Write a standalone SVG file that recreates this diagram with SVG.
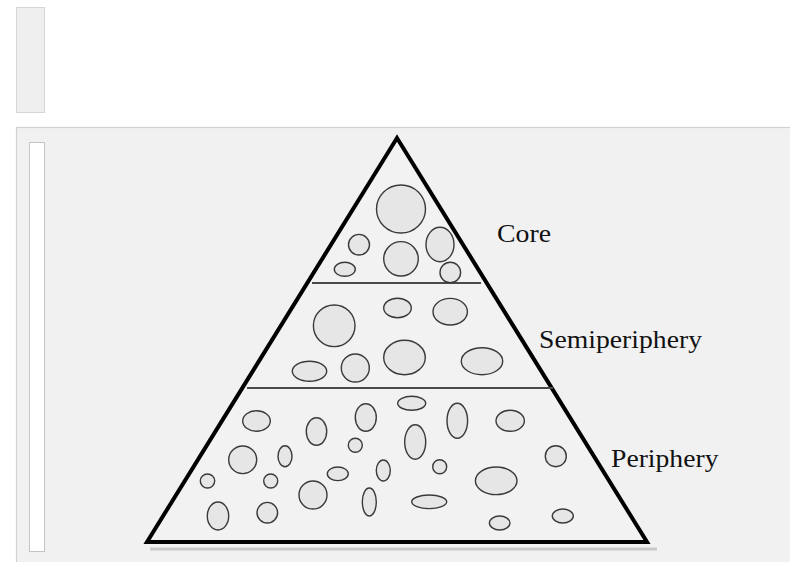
<svg xmlns="http://www.w3.org/2000/svg" width="790" height="562" viewBox="0 0 790 562">
<defs>
<style>
.bg{fill:#f1f1f1}
.blob{fill:#e6e6e6;stroke:#3a3a3a;stroke-width:1.4}
.div{stroke:#4a4a4a;stroke-width:2;fill:none}
.lbl{font-family:"Liberation Serif","Times New Roman",serif;font-size:26px;fill:#111}
</style>
</defs>
<rect width="790" height="562" fill="#ffffff"/>
<rect x="16.5" y="7.5" width="28" height="105" fill="#efefef" stroke="#d6d6d6" stroke-width="1"/>
<rect x="16.5" y="127.5" width="780" height="440" class="bg" stroke="#d2d2d2" stroke-width="1.2"/>
<rect x="29.5" y="142.5" width="15" height="409" fill="#ffffff" stroke="#c4c4c4" stroke-width="1"/>
<line x1="150" y1="549" x2="657" y2="549" stroke="#c9c9c9" stroke-width="3"/>
<g id="pyramid">
<polygon points="397,138 147,542 647,542" fill="#f2f2f2" stroke="#000" stroke-width="4" stroke-linejoin="miter"/>
</g>
<g id="connectors">
<line class="div" x1="312" y1="283" x2="481" y2="283"/>
<line class="div" x1="247" y1="388" x2="553" y2="388"/>
</g>
<g id="core">
<ellipse class="blob" cx="401" cy="209" rx="24.5" ry="24"/>
<ellipse class="blob" cx="359" cy="244.7" rx="10.5" ry="10.3"/>
<ellipse class="blob" cx="401" cy="258.8" rx="17.3" ry="17.2"/>
<ellipse class="blob" cx="440" cy="244.5" rx="14" ry="17.2"/>
<ellipse class="blob" cx="344.8" cy="269.3" rx="10.5" ry="7"/>
<ellipse class="blob" cx="450.3" cy="272.5" rx="10.3" ry="10.2"/>
<text class="lbl" x="497" y="242" textLength="54" lengthAdjust="spacingAndGlyphs">Core</text>
</g>
<g id="semiperiphery">
<ellipse class="blob" cx="334.2" cy="325.8" rx="20.8" ry="20.8"/>
<ellipse class="blob" cx="397.5" cy="308" rx="13.8" ry="9.7"/>
<ellipse class="blob" cx="450.2" cy="311.7" rx="17.2" ry="13.3"/>
<ellipse class="blob" cx="404.5" cy="357.5" rx="20.8" ry="17.2"/>
<ellipse class="blob" cx="482" cy="361.2" rx="20.7" ry="13.5"/>
<ellipse class="blob" cx="309.5" cy="371.3" rx="17.2" ry="10"/>
<ellipse class="blob" cx="355.3" cy="368" rx="14" ry="14"/>
<text class="lbl" x="539" y="348" textLength="163" lengthAdjust="spacingAndGlyphs">Semiperiphery</text>
</g>
<g id="periphery">
<ellipse class="blob" cx="256.5" cy="421" rx="13.8" ry="10.3"/>
<ellipse class="blob" cx="316.5" cy="431.5" rx="10.2" ry="13.8"/>
<ellipse class="blob" cx="365.8" cy="417.5" rx="10.5" ry="13.8"/>
<ellipse class="blob" cx="242.7" cy="459.8" rx="14" ry="13.8"/>
<ellipse class="blob" cx="285" cy="456.2" rx="7" ry="10.5"/>
<ellipse class="blob" cx="355.3" cy="445.3" rx="7" ry="7"/>
<ellipse class="blob" cx="383.3" cy="470.5" rx="7" ry="10.5"/>
<ellipse class="blob" cx="337.8" cy="473.8" rx="10.5" ry="6.8"/>
<ellipse class="blob" cx="207.5" cy="481" rx="7.2" ry="7"/>
<ellipse class="blob" cx="270.7" cy="481" rx="7" ry="7"/>
<ellipse class="blob" cx="313" cy="495" rx="14" ry="14"/>
<ellipse class="blob" cx="218" cy="516" rx="10.7" ry="14"/>
<ellipse class="blob" cx="267.3" cy="512.7" rx="10.3" ry="10.3"/>
<ellipse class="blob" cx="369.3" cy="502" rx="7" ry="14"/>
<ellipse class="blob" cx="411.7" cy="403.3" rx="14" ry="7"/>
<ellipse class="blob" cx="457.3" cy="420.8" rx="10.3" ry="17.5"/>
<ellipse class="blob" cx="510.2" cy="420.8" rx="14.2" ry="10.5"/>
<ellipse class="blob" cx="415.2" cy="442" rx="10.5" ry="17.3"/>
<ellipse class="blob" cx="439.7" cy="466.7" rx="7" ry="7"/>
<ellipse class="blob" cx="555.8" cy="456.2" rx="10.5" ry="10.5"/>
<ellipse class="blob" cx="496.2" cy="480.8" rx="20.8" ry="13.8"/>
<ellipse class="blob" cx="429.2" cy="501.8" rx="17.5" ry="6.8"/>
<ellipse class="blob" cx="499.7" cy="523" rx="10.3" ry="7"/>
<ellipse class="blob" cx="562.8" cy="516" rx="10.5" ry="7"/>
<text class="lbl" x="611" y="467" textLength="107.5" lengthAdjust="spacingAndGlyphs">Periphery</text>
</g>
</svg>
